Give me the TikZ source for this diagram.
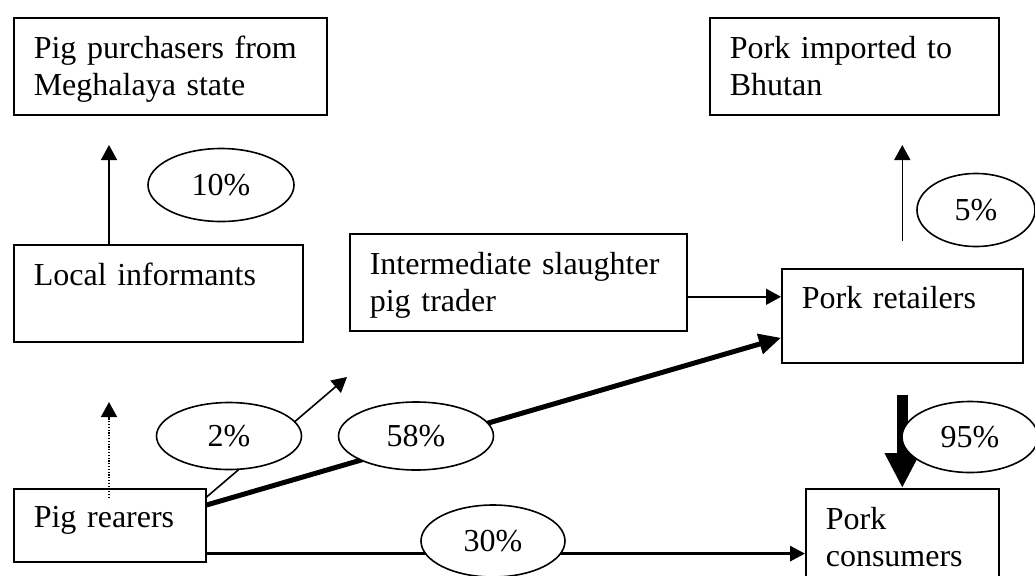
\documentclass[tikz,border=0pt]{standalone}
\usepackage{fontspec}
\setmainfont{Liberation Serif}
\usetikzlibrary{arrows.meta,shapes.geometric}

\newcommand{\hitop}{\rule{0pt}{18.5pt}}
\newcommand{\lobot}{\rule[-7.5pt]{0pt}{7.5pt}}
\newcommand{\oneline}{\rule[-9pt]{0pt}{20pt}}

\begin{document}
\begin{tikzpicture}[x=0.5pt,y=-0.5pt,
  box/.style={draw,line width=0.8pt,anchor=north west,align=left,inner xsep=10pt,inner ysep=2pt,font=\fontsize{16}{18.5}\selectfont},
  pct/.style={draw,line width=0.8pt,ellipse,fill=white,inner sep=0pt,font=\fontsize{16}{18.5}\selectfont},
  flow/.style={line width=0.8pt,-{Triangle[length=7.5pt,width=8pt]}},
  ]
\useasboundingbox (0,0) rectangle (1035,575);

\node[box,text width=136.5pt] (buyers) at (13,17) {\hitop Pig purchasers from\\Meghalaya state\lobot};
\node[box,text width=124.5pt] (informants) at (13,244) {\hitop Local informants\\\lobot};
\node[box,text width=148.5pt] (trader) at (349,233) {\hitop Intermediate slaughter\\pig trader\lobot};
\node[box,text width=124.5pt] (imported) at (709,17) {\hitop Pork imported to\\Bhutan\lobot};
\node[box,text width=100.5pt,inner ysep=1.25pt] (retailers) at (781,268) {\hitop Pork retailers\\\lobot};
\node[box,text width=76pt,minimum height=36.5pt] (rearers) at (13,488) {\oneline Pig rearers};
\node[box,text width=76.5pt] (consumers) at (805,488) {\hitop Pork\\consumers\lobot};

\coordinate (up10) at (109,145);
\coordinate (dotfrom) at (109,498);
\coordinate (dotto) at (109,402);
\coordinate (up2) at (347,377);

\draw[flow] (up10 |- informants.north) -- (up10);
\draw[flow] ([yshift=13.5pt]retailers.north) -- ++(0,-96);
\draw[flow] ([yshift=-7.25pt]trader.east) coordinate (ctr) -- (ctr -| retailers.west);
\draw[line width=0.8pt,dash pattern=on 0.6pt off 0.8pt,-{Triangle[length=7.5pt,width=8pt]}] (dotfrom) -- (dotto);
\draw[flow] ([yshift=-4.5pt]rearers.north east) -- (up2);
\draw[line width=2.5pt,-{Triangle[length=11pt,width=10pt]}] ([yshift=-8.5pt]rearers.north east) -- ([yshift=-11pt]retailers.west);
\draw[line width=1.5pt,-{Triangle[length=7.5pt,width=7.5pt]}] ([yshift=4.5pt]rearers.south east) coordinate (c30) -- (c30 -| consumers.west);
\draw[line width=5.5pt,-{Triangle[length=17.5pt,width=16.5pt]}] ([yshift=-15.5pt]retailers.south) -- (consumers.north);

\node[pct,minimum width=73pt,minimum height=36.5pt] (p10) at (221,185) {10\%};
\node[pct,minimum width=59pt,minimum height=36.5pt] (p5) at (976,210) {5\%};
\node[pct,minimum width=72.5pt,minimum height=33.5pt] (p2) at (229,436) {2\%};
\node[pct,minimum width=77.5pt,minimum height=34pt] (p58) at (416,436) {58\%};
\node[pct,minimum width=68pt,minimum height=35.5pt] (p95) at (970,437) {95\%};
\node[pct,minimum width=72pt,minimum height=36pt] (p30) at (493,541) {30\%};
\end{tikzpicture}
\end{document}
